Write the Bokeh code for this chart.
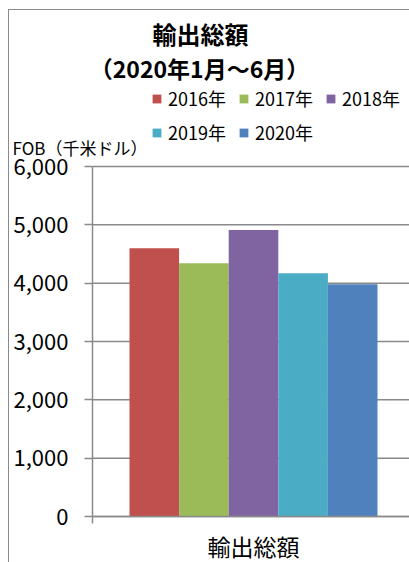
from bokeh.plotting import figure
from bokeh.models import (ColumnDataSource, Range1d, FixedTicker, NumeralTickFormatter,
                          Label, Legend, LegendItem, LinearAxis)
from bokeh.embed import file_html
from bokeh.resources import INLINE

category = ["輸出総額"]
years = ["2016年", "2017年", "2018年", "2019年", "2020年"]
values = [4600, 4340, 4910, 4170, 3980]
colors = ["#C0504D", "#9BBB59", "#8064A2", "#4BACC6", "#4F81BD"]
y_ticks = [0, 1000, 2000, 3000, 4000, 5000, 6000]
title1 = "輸出総額"
title2 = "（2020年1月～6月）"
y_label = "FOB（千米ドル）"

FONT = "Noto Sans CJK JP"
GRAY = "#8a8a8a"

# layout geometry (pixels on the page)
FRAME_L, FRAME_R, FRAME_T, FRAME_B = 9, 409, 10, 562
AXIS_X, AXIS_Y, BAR_CENTER, BAR_PX, TOP_TICK_Y = 92, 516, 253, 49.6, 166

x_start = (FRAME_L - BAR_CENTER) / BAR_PX
x_end = (FRAME_R - BAR_CENTER) / BAR_PX
x_axis = (AXIS_X - BAR_CENTER) / BAR_PX
y_max = max(y_ticks)
px_per = (AXIS_Y - TOP_TICK_Y) / y_max
y_start = -(FRAME_B - AXIS_Y) / px_per
y_end = (AXIS_Y - FRAME_T) / px_per

p = figure(width=401, height=553, x_range=Range1d(x_start, x_end), y_range=Range1d(y_start, y_end),
           output_backend="svg", toolbar_location=None,
           x_axis_location=None, y_axis_location=None,
           min_border_left=1, min_border_top=1, min_border_bottom=0, min_border_right=0)
p.styles = {"margin-left": "8px", "margin-top": "9px",
            "box-shadow": "inset 1px 1px 0 0 #8a8a8a"}
p.outline_line_color = None
p.background_fill_alpha = 0
p.border_fill_alpha = 0
p.xgrid.grid_line_color = None
p.ygrid.grid_line_color = None

# horizontal gridlines from the tick values, behind the bars
n_t = len(y_ticks)
p.segment(x0=[x_axis] * n_t, x1=[x_end] * n_t, y0=y_ticks, y1=y_ticks,
          line_color=GRAY, line_width=1.5, level="underlay")

n = len(years)
positions = [i - (n - 1) / 2 for i in range(n)]
items = []
for pos, yr, v, c in zip(positions, years, values, colors):
    src = ColumnDataSource(dict(x=[pos], val=[v]))
    r = p.vbar(x="x", top="val", width=1, source=src, fill_color=c, line_color=None)
    items.append(LegendItem(label=yr, renderers=[r]))

# y axis, drawn inside the frame at a fixed x position
yax = LinearAxis(fixed_location=x_axis, bounds=(-7 / px_per, y_max),
                 ticker=FixedTicker(ticks=y_ticks),
                 formatter=NumeralTickFormatter(format="0,0"),
                 axis_line_color=GRAY, axis_line_width=1.5,
                 major_tick_line_color=GRAY, major_tick_line_width=1.5,
                 major_tick_out=8, major_tick_in=0, minor_tick_line_color=None,
                 major_label_standoff=16, major_label_text_font=FONT,
                 major_label_text_font_size="22px", major_label_text_color="#000000")
p.add_layout(yax, "left")

# x axis at value 0 with the single category label
xax = LinearAxis(fixed_location=0, bounds=(x_axis, x_end),
                 ticker=FixedTicker(ticks=[0]),
                 major_label_overrides={0: category[0]},
                 axis_line_color=GRAY, axis_line_width=1.5,
                 major_tick_line_color=None, major_tick_out=0, major_tick_in=0,
                 minor_tick_line_color=None,
                 major_label_standoff=12, major_label_text_font=FONT,
                 major_label_text_font_size="23px", major_label_text_color="#000000")
p.add_layout(xax, "below")


def sy(page_y):
    return FRAME_B - page_y


def sx(page_x):
    return page_x - FRAME_L


p.add_layout(Label(x=sx(200), y=sy(33), x_units="screen", y_units="screen", text=title1,
                   text_font=FONT, text_font_size="24px", text_font_style="bold",
                   text_align="center", text_baseline="middle", text_color="#000000"))
p.add_layout(Label(x=sx(199), y=sy(67), x_units="screen", y_units="screen", text=title2,
                   text_font=FONT, text_font_size="23px", text_font_style="bold",
                   text_align="center", text_baseline="middle", text_color="#000000"))
p.add_layout(Label(x=sx(12), y=sy(147), x_units="screen", y_units="screen", text=y_label,
                   text_font=FONT, text_font_size="17px",
                   text_align="left", text_baseline="middle", text_color="#000000"))

legend = Legend(items=items, location=(sx(151), sy(145)), orientation="horizontal", ncols=3,
                glyph_width=11, glyph_height=11, label_standoff=6, spacing=8,
                label_width=62, padding=0, margin=0, border_line_color=None,
                background_fill_alpha=0,
                label_text_font=FONT, label_text_font_size="18px", label_text_color="#000000")
p.add_layout(legend, "center")

open("out.html", "w").write(file_html(p, INLINE))
